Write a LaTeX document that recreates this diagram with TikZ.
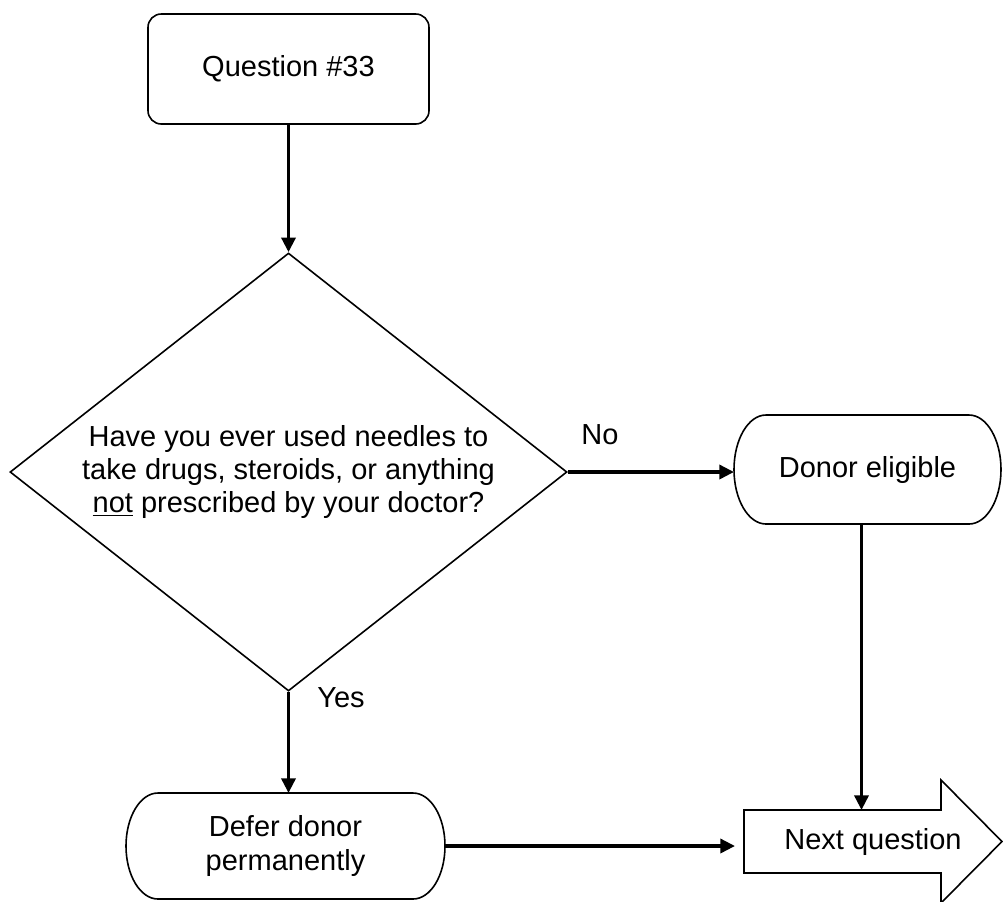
\documentclass[tikz,border=0pt]{standalone}
\usepackage{fontspec}
\setmainfont{Liberation Sans}
\usetikzlibrary{shapes.geometric, arrows.meta}
\tikzset{
  box/.style={
    draw,
    line width=1.2pt,
    rounded corners=10pt,
    minimum width=210.75pt,
    minimum height=82.5pt
  },
  decision/.style={
    draw,
    diamond,
    aspect=1.27,
    line width=1.2pt,
    inner sep=0pt,
    align=center,
    minimum width=417.75pt,
    minimum height=328.5pt
  },
  terminal/.style={
    inner sep=0pt,
    outer sep=0pt,
    align=center
  },
  outline/.style={
    line width=1.2pt
  },
  flow/.style={
    -{Triangle[length=11pt, width=10.5pt]},
    line width=2.6pt
  },
  answer/.style={
    inner sep=0pt
  }
}
% outline of a terminal node with elliptic ends
\newcommand{\termline}[2]{%
  \draw[outline] ([xshift=24pt]#1.north west) -- ([xshift=-24pt]#1.north east)
    arc[start angle=90, end angle=-90, x radius=24pt, y radius=#2]
    -- ([xshift=24pt]#1.south west)
    arc[start angle=270, end angle=90, x radius=24pt, y radius=#2] -- cycle;}

\begin{document}
\begin{tikzpicture}[x=0.75pt, y=-0.75pt, font=\fontsize{21.75}{25}\selectfont]
    \useasboundingbox (0,0) rectangle (1003,901);

    % start and question
    \node[box] (q) at (288.5,69) {Question \#33};
    \node[decision] (dec) at (288.5,472) {Have you ever used needles to\\take drugs, steroids, or anything\\\underline{not} prescribed by your doctor?};

    % outcomes
    \node[terminal, minimum width=200.25pt, minimum height=81.75pt] (elig) at (867.5,469.5) {Donor eligible};
    \termline{elig}{40.875pt}
    \node[terminal, minimum width=239.25pt, minimum height=79.5pt] (defer) at (285.5,846) {Defer donor\\permanently};
    \termline{defer}{39.75pt}

    % next question block arrow
    \node[terminal, minimum width=193.5pt, minimum height=47.25pt] (nq) at (873,841.5) {Next question};
    \draw[outline] (nq.north west) -- ([xshift=-45.75pt]nq.north east)
      -- ([xshift=-45.75pt, yshift=22.5pt]nq.north east) -- (nq.east)
      -- ([xshift=-45.75pt, yshift=-22.5pt]nq.south east)
      -- ([xshift=-45.75pt]nq.south east) -- (nq.south west) -- cycle;

    % answers
    \node[answer] (no) at (600,435) {No};
    \node[answer] (yes) at (341,698) {Yes};

    % connectors
    \draw[flow] (q) -- (dec);
    \draw[flow] (dec.east) -- (dec.east -| elig.west);
    \draw[flow] (dec.south) -- (dec.south |- defer.north);
    \draw[flow] ([xshift=-4.5pt]elig.south) -- ([xshift=-4.5pt]elig.south |- nq.north);
    \draw[flow, shorten >=6.75pt] (defer.east) -- (defer.east -| nq.west);

\end{tikzpicture}
\end{document}
